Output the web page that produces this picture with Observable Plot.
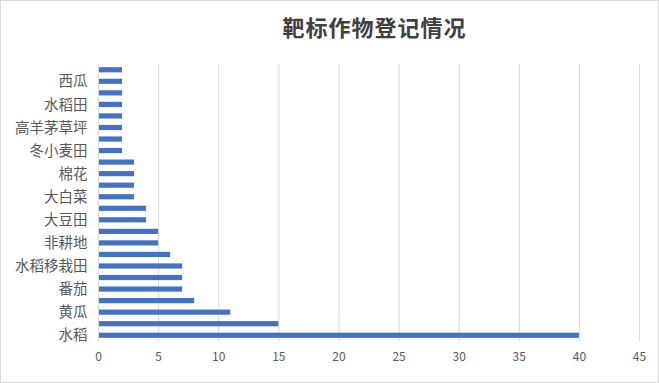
<!DOCTYPE html>
<html>
<head>
<meta charset="utf-8">
<script src="https://cdn.jsdelivr.net/npm/d3@7"></script>
<script src="https://cdn.jsdelivr.net/npm/@observablehq/plot@0.6"></script>
<style>
  html, body { margin: 0; padding: 0; background: #fff; }
  #chart { width: 657px; height: 381px; border: 1px solid #d9d9d9; background: #fff; font-family: "Noto Sans CJK SC", "Noto Sans", sans-serif; }
  #title { height: 52px; line-height: 50px; padding-left: 90px; text-align: center; font-size: 22px; font-weight: bold; color: #404040; letter-spacing: 1px; }
</style>
</head>
<body>
<div id="chart">
  <div id="title">靶标作物登记情况</div>
  <div id="plot"></div>
</div>
<script>
// Categories bottom-to-top (as in the source sheet order)
const categories = ["水稻", "小麦", "黄瓜", "柑橘树", "番茄", "玉米", "水稻移栽田", "甘蓝", "非耕地", "苹果树", "大豆田", "茶树", "大白菜", "马铃薯", "棉花", "油菜", "冬小麦田", "花生", "高羊茅草坪", "葡萄", "水稻田", "草莓", "西瓜", "辣椒"];
const counts = [40, 15, 11, 8, 7, 7, 7, 6, 5, 5, 4, 4, 3, 3, 3, 3, 2, 2, 2, 2, 2, 2, 2, 2];
const xTicks = [0, 5, 10, 15, 20, 25, 30, 35, 40, 45];
const shownLabels = categories.filter((d, i) => i % 2 === 0);

const data = categories.map((c, i) => ({crop: c, n: counts[i]}));

const chart = Plot.plot({
  width: 657,
  height: 329,
  marginLeft: 97,
  marginRight: 19,
  marginTop: 11,
  marginBottom: 41,
  style: {fontFamily: "\"Noto Sans CJK SC\", \"Noto Sans\", sans-serif", background: "#fff", color: "#595959"},
  x: {domain: [0, 45], ticks: xTicks, label: null},
  y: {domain: categories.slice().reverse(), paddingInner: 0.55, paddingOuter: 0.275, round: false, label: null},
  marks: [
    Plot.gridX(xTicks, {stroke: "#d9d9d9", strokeOpacity: 1}),
    Plot.barX(data, {x: "n", y: "crop", fill: "#4472C4"}),
    Plot.ruleX([0], {stroke: "#d9d9d9"}),
    Plot.axisX({ticks: xTicks, tickSize: 0, tickPadding: 11, fontSize: 12, fill: "#595959", label: null}),
    Plot.axisY({ticks: shownLabels, tickSize: 0, tickPadding: 11, fontSize: 14.5, fill: "#595959", label: null})
  ]
});
document.getElementById("plot").appendChild(chart);
</script>
</body>
</html>
